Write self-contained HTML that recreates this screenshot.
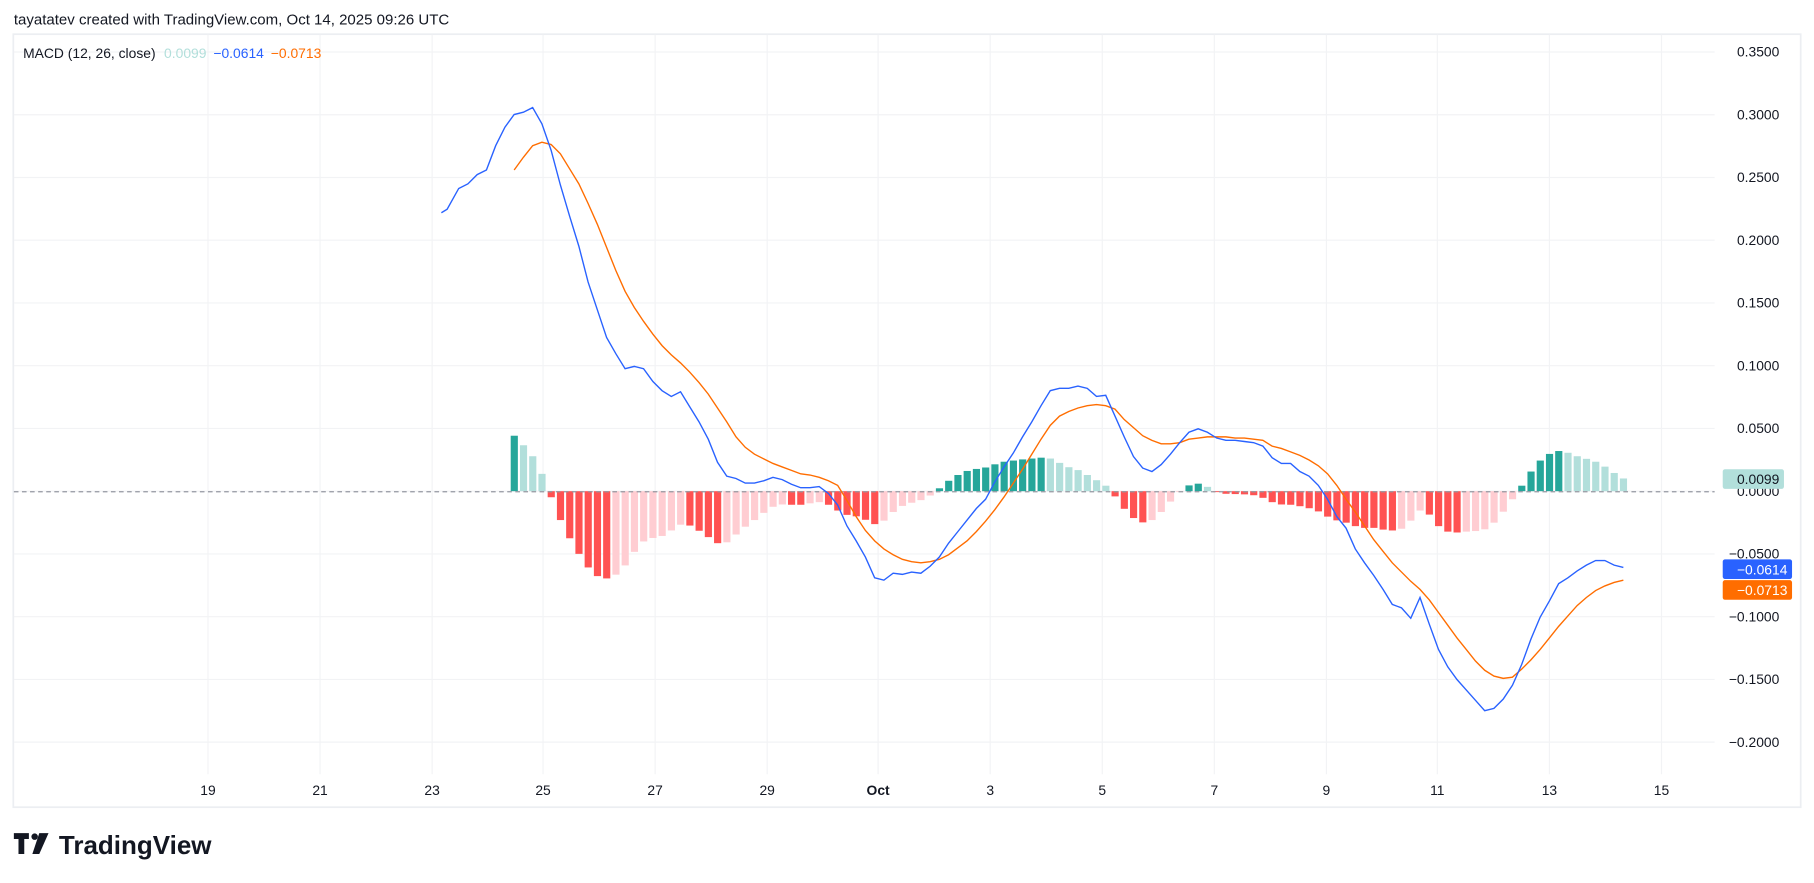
<!DOCTYPE html>
<html><head><meta charset="utf-8"><style>
html,body{margin:0;padding:0;background:#fff;}
svg{display:block;font-family:"Liberation Sans",sans-serif;}
</style></head><body>
<svg id="c" width="1814" height="883" viewBox="0 0 1570 764" xmlns="http://www.w3.org/2000/svg">
<rect width="1570" height="764" fill="#fff"/>
<text x="12" y="21" font-size="13" fill="#131722">tayatatev created with TradingView.com, Oct 14, 2025 09:26 UTC</text>
<rect x="11.5" y="29.5" width="1547" height="669" fill="none" stroke="#eceef2" stroke-width="1.5"/>
<g id="grid" stroke="#f2f3f5" stroke-width="1"></g>
<g id="bars"></g>
<line x1="12" y1="425.5" x2="1484" y2="425.5" stroke="#9598a1" stroke-dasharray="4,3" stroke-width="1"/>
<polyline id="sig" fill="none" stroke="#ff6d00" stroke-width="1.2"/>
<polyline id="macd" fill="none" stroke="#2962ff" stroke-width="1.2"/>
<g id="ylab" font-size="12" fill="#131722" text-anchor="end"></g>
<g id="xlab" font-size="12" fill="#131722" text-anchor="middle"></g>
<text x="20" y="50" font-size="12" fill="#131722">MACD (12, 26, close) <tspan fill="#b2dfdb" dx="4">0.0099</tspan><tspan fill="#2962ff" dx="6">−0.0614</tspan><tspan fill="#ff6d00" dx="6">−0.0713</tspan></text>
<rect x="1491" y="406" width="53" height="17" rx="2" fill="#b2dfdb"/>
<text x="1540" y="419" font-size="12" fill="#131722" text-anchor="end">0.0099</text>
<rect x="1491" y="484" width="60" height="17" rx="2" fill="#2962ff"/>
<text x="1547" y="497" font-size="12" fill="#fff" text-anchor="end">−0.0614</text>
<rect x="1491" y="502" width="60" height="17" rx="2" fill="#ff6d00"/>
<text x="1547" y="515" font-size="12" fill="#fff" text-anchor="end">−0.0713</text>
<g fill="#131722">
<path d="M12 721h13v5h-4v13h-5v-13h-4z"/>
<circle cx="30" cy="724" r="2.8"/>
<path d="M34 721h8l-8 18h-6z"/>
<text x="51" y="739" font-size="22.5" font-weight="bold">TradingView</text>
</g>
</svg>
<script>
var NS="http://www.w3.org/2000/svg";
function el(p,t,a,txt){var e=document.createElementNS(NS,t);for(var k in a)e.setAttribute(k,a[k]);if(txt)e.textContent=txt;document.getElementById(p).appendChild(e);return e;}
function yv(v){return 425-1086*v;}
var vals=[0.35,0.3,0.25,0.2,0.15,0.1,0.05,0,-0.05,-0.1,-0.15,-0.2];
vals.forEach(function(v){var yy=yv(v);el("grid","line",{x1:12,x2:1484,y1:yy,y2:yy});
 el("ylab","text",{x:1540,y:yy+4},(v<0?"−":"")+Math.abs(v).toFixed(4));});
var xl=[[180,"19"],[277,"21"],[374,"23"],[470,"25"],[567,"27"],[664,"29"],[760,"Oct"],[857,"3"],[954,"5"],[1051,"7"],[1148,"9"],[1244,"11"],[1341,"13"],[1438,"15"]];
xl.forEach(function(p){el("grid","line",{x1:p[0],x2:p[0],y1:30,y2:670});
 var t=el("xlab","text",{x:p[0],y:688},p[1]);if(p[1]=="Oct")t.setAttribute("font-weight","bold");});
var M=[[382,184],[387,181],[397,163],[405,159],[413,151],[421,147],[429,126],[437,110],[445,99],[453,97],[461,93],[469,107],[477,130],[485,160],[493,187],[501,213],[509,244],[517,268],[525,292],[533,306],[541,319],[549,317],[557,319],[565,330],[573,338],[581,343],[589,339],[597,352],[605,365],[613,380],[621,400],[629,412],[637,414],[645,418],[653,418],[661,416],[669,413],[677,415],[685,419],[693,422],[701,422],[709,421],[717,427],[725,437],[733,455],[741,468],[749,482],[757,500],[765,502],[773,496],[781,497],[789,495],[797,496],[805,490],[813,482],[821,470],[829,460],[837,450],[845,440],[853,432],[861,417],[869,404],[877,392],[885,378],[893,365],[901,351],[909,338],[917,336],[925,336],[933,334],[941,336],[949,343],[957,342],[965,360],[973,378],[981,395],[989,405],[997,408],[1005,402],[1013,393],[1021,383],[1029,374],[1037,371],[1045,374],[1053,379],[1061,381],[1069,381],[1077,382],[1085,383],[1093,386],[1101,396],[1109,401],[1117,401],[1125,408],[1133,412],[1141,420],[1149,432],[1157,447],[1165,457],[1173,475],[1181,487],[1189,498],[1197,510],[1205,523],[1213,526],[1221,535],[1229,517],[1237,540],[1245,562],[1253,577],[1261,588],[1269,597],[1277,606],[1285,615],[1293,613],[1301,605],[1309,593],[1317,575],[1325,553],[1333,534],[1341,520],[1349,505],[1357,500],[1365,494],[1373,489],[1381,485],[1389,485],[1397,489],[1405,491]];
var S=[[445,147],[453,136],[461,126],[469,123],[477,125],[485,133],[493,146],[501,159],[509,176],[517,194],[525,214],[533,234],[541,252],[549,266],[557,278],[565,289],[573,299],[581,307],[589,314],[597,322],[605,331],[613,341],[621,353],[629,365],[637,378],[645,387],[653,393],[661,397],[669,401],[677,404],[685,407],[693,410],[701,411],[709,413],[717,416],[725,420],[733,433],[741,447],[749,459],[757,468],[765,475],[773,480],[781,484],[789,486],[797,487],[805,486],[813,484],[821,480],[829,474],[837,468],[845,460],[853,451],[861,441],[869,430],[877,418],[885,406],[893,393],[901,380],[909,368],[917,360],[925,356],[933,353],[941,351],[949,350],[957,351],[965,354],[973,363],[981,370],[989,377],[997,381],[1005,384],[1013,384],[1021,383],[1029,380],[1037,379],[1045,378],[1053,378],[1061,378],[1069,379],[1077,379],[1085,380],[1093,381],[1101,386],[1109,388],[1117,391],[1125,394],[1133,398],[1141,403],[1149,410],[1157,420],[1165,432],[1173,443],[1181,455],[1189,467],[1197,477],[1205,487],[1213,495],[1221,503],[1229,510],[1237,519],[1245,530],[1253,541],[1261,552],[1269,562],[1277,572],[1285,580],[1293,585],[1301,587],[1309,586],[1317,579],[1325,571],[1333,562],[1341,552],[1349,542],[1357,533],[1365,524],[1373,517],[1381,511],[1389,507],[1397,504],[1405,502]];
document.getElementById("macd").setAttribute("points",M.map(function(p){return p.join(",")}).join(" "));
document.getElementById("sig").setAttribute("points",S.map(function(p){return p.join(",")}).join(" "));
function at(A,x){for(var i=0;i<A.length-1;i++){if(x>=A[i][0]&&x<=A[i+1][0]){var t=(x-A[i][0])/(A[i+1][0]-A[i][0]);return A[i][1]+t*(A[i+1][1]-A[i][1]);}}return A[A.length-1][1];}
(function(){
var xs=[],hs=[];
for(var x=445;x<=1405;x+=8){xs.push(x);hs.push(at(S,x)-at(M,x));}
var sm=hs.map(function(h,i){if(i==0||i==hs.length-1)return h;return (hs[i-1]+2*h+hs[i+1])/4;});
var prev=null;
for(var i=0;i<xs.length;i++){var h=sm[i],col;
 if(h>=0)col=(prev===null||h>=prev)?"#26a69a":"#b2dfdb";else col=(prev===null||h<=prev)?"#ff5252":"#ffcdd2";
 prev=h;var by=h>=0?425-h:425,ht=Math.max(Math.abs(h),0.8);
 el("bars","rect",{x:xs[i]-3,y:by,width:6.2,height:ht,fill:col});}
})();
</script>
</body></html>
